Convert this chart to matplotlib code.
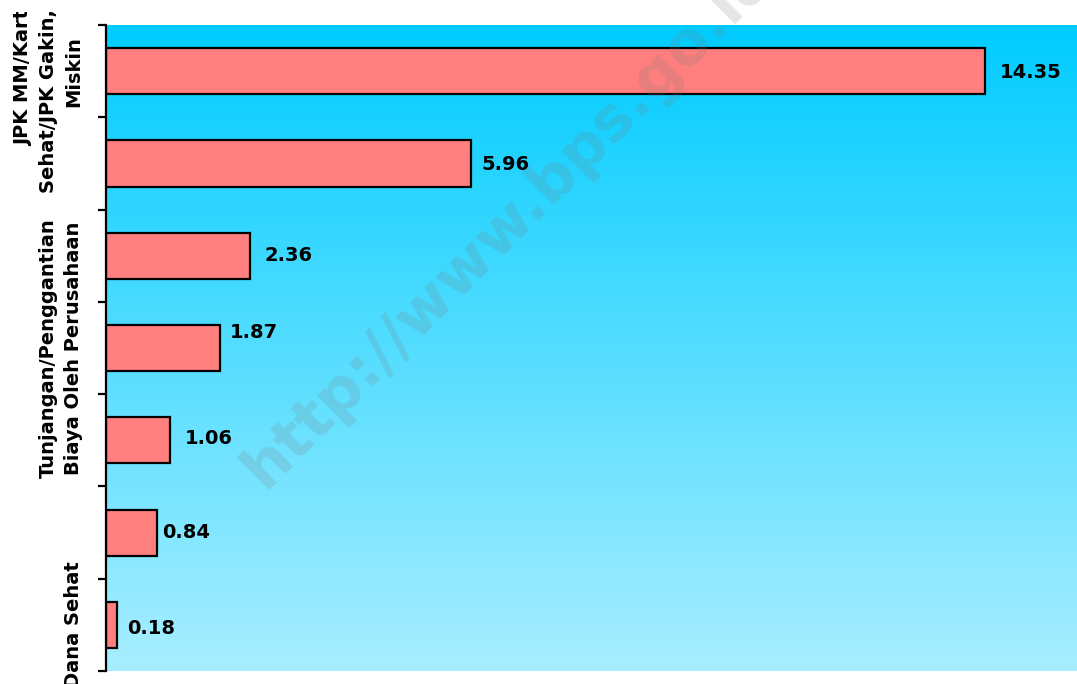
import numpy as np
import matplotlib
matplotlib.use("Agg")
import matplotlib.pyplot as plt
from matplotlib.transforms import Bbox, TransformedBbox
from matplotlib.colors import LinearSegmentedColormap

# ---- data (top to bottom) ----
categories = [
    "JPK MM/Kartu\nSehat/JPK Gakin,         \nMiskin",
    "",
    "",
    "Tunjangan/Penggantian\nBiaya Oleh Perusahaan",
    "",
    "",
    "Dana Sehat",
]
values = [14.35, 5.96, 2.36, 1.87, 1.06, 0.84, 0.18]
value_labels = ["14.35", "5.96", "2.36", "1.87", "1.06", "0.84", "0.18"]

# label placement offsets in pixels (style only)
lab_dx = [15, 11, 14, 10, 14, 5, 11]
lab_dy = [-1, -1.5, 0, 16, 2, 0, -3.5]

W, H = 1077, 684
fig = plt.figure(figsize=(W / 100, H / 100), dpi=100)
fig.patch.set_facecolor("white")
ax = fig.add_axes([105.5 / W, 13 / H, 1 - 105.5 / W, (671 - 25) / H])

# gradient background
cmap = LinearSegmentedColormap.from_list("bg", ["#00CCFF", "#A8EEFF"])
grad = np.linspace(0, 1, 256).reshape(-1, 1)
ax.imshow(grad, cmap=cmap, extent=[0, 1, 0, 1], transform=ax.transAxes,
          aspect="auto", origin="upper", zorder=0, interpolation="bicubic")

y = np.arange(len(values))
ax.barh(y, values, height=0.5, color="#FF7F7F", edgecolor="black",
        linewidth=1.6, zorder=2)

for i, (v, t) in enumerate(zip(values, value_labels)):
    ax.annotate(t, xy=(v, y[i]), xytext=(lab_dx[i], lab_dy[i]),
                textcoords="offset pixels", ha="left", va="center",
                fontsize=14, fontweight="bold", color="black", zorder=3)

ax.set_xlim(0, 15.85)
ax.set_ylim(len(values) - 0.5, -0.5)

for s in ["top", "right", "bottom"]:
    ax.spines[s].set_visible(False)
ax.spines["left"].set_linewidth(1.6)
ax.spines["left"].set_zorder(4)
ax.set_xticks([])

ax.set_yticks(np.arange(len(values) + 1) - 0.5)
ax.set_yticklabels([])
ax.tick_params(axis="y", which="major", length=6, width=1.6, direction="out")
ax.set_yticks(y, minor=True)
ax.set_yticklabels(categories, minor=True, rotation=90, va="center",
                   ha="right", fontsize=14, fontweight="bold",
                   multialignment="center")
ax.tick_params(axis="y", which="minor", length=0, pad=16)

clip = TransformedBbox(Bbox.from_extents(0, 0, 1, 1 - 12 / H), fig.transFigure)
for lab in ax.get_yticklabels(minor=True):
    lab.set_linespacing(1.42)
    lab.set_clip_box(clip)
    lab.set_clip_on(True)

# watermark
fig.text(265 / W, 1 - 490 / H, "http://www.bps.go.id", rotation=45,
         rotation_mode="anchor", ha="left", va="baseline", fontsize=44,
         fontweight="bold", color="#7a7a7a", alpha=0.19, zorder=10)

fig.savefig("out.png", dpi=100)
